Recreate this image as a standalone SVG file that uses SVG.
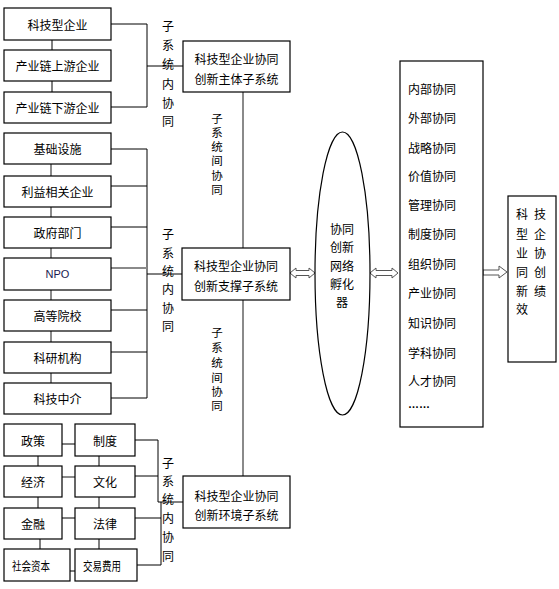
<svg xmlns="http://www.w3.org/2000/svg" width="559" height="589" viewBox="0 0 559 589">
<style>
.box{fill:#fff;stroke:#000;stroke-width:1.2}
.t{font-family:"Noto Sans CJK SC","Liberation Sans",sans-serif;font-size:12px;fill:#000;text-anchor:middle;dominant-baseline:central}
.tv{font-family:"Noto Sans CJK SC","Liberation Sans",sans-serif;font-size:11.5px;fill:#000;text-anchor:middle;dominant-baseline:central}
.tl{font-family:"Noto Sans CJK SC","Liberation Sans",sans-serif;font-size:12px;fill:#000;dominant-baseline:central}
.ln{stroke:#000;stroke-width:1;fill:none}
.gl{stroke:#8a8a8a;stroke-width:2;fill:none}
.arr{fill:#fff;stroke:#555;stroke-width:1}
</style>
<rect width="559" height="589" fill="#fff"/>
<g id="connectors">
<line class="gl" x1="243" y1="92" x2="243" y2="476"/>
<path class="ln" d="M52 40V50M52 81V92"/>
<path class="ln" d="M111 24H147V107H111M147 66H183"/>
<path class="gl" d="M51 164V176M51 207V217M51 248V258M51 290V300M51 331V342M51 373V383"/>
<path class="ln" d="M111 149H147V398H111M111 186H147M111 227H147M111 310H147M111 352H147M147 274H183"/>
<line class="gl" x1="111" y1="268" x2="147" y2="268"/>
<path class="ln" d="M62 444H75M62 518H75M62 571H75"/>
<line class="gl" x1="62" y1="477" x2="75" y2="477"/>
<path class="ln" d="M38 456V466M38 497V508M40 539V549M99 456V466M99 497V508M99 539V549"/>
<path class="ln" d="M135 440H158V502H183M135 476H158M135 518H161M137 565H161V502"/>
<path class="arr" d="M290 273L296 268V270.5H309V268L315 273L309 278V275.5H296V278Z"/>
<path class="arr" d="M370 273L376 268V270.5H392V268L398 273L392 278V275.5H376V278Z"/>
<path class="arr" d="M483 270H499V266L507 272L499 278V275H483Z"/>
</g>
<g id="n1"><rect class="box" x="4" y="8" width="107" height="32"/><text class="t" x="57.5" y="24">科技型企业</text></g>
<g id="n2"><rect class="box" x="4" y="50" width="107" height="31"/><text class="t" x="57.5" y="65.5">产业链上游企业</text></g>
<g id="n3"><rect class="box" x="4" y="92" width="107" height="31"/><text class="t" x="57.5" y="107.5">产业链下游企业</text></g>
<g id="m1"><rect class="box" x="183" y="41" width="107" height="51"/><text class="t" x="236.5" y="58">科技型企业协同</text><text class="t" x="236.5" y="78">创新主体子系统</text></g>
<g id="s1"><rect class="box" x="4" y="133" width="107" height="31"/><text class="t" x="57.5" y="148.5">基础设施</text></g>
<g id="s2"><rect class="box" x="4" y="176" width="107" height="31"/><text class="t" x="57.5" y="191.5">利益相关企业</text></g>
<g id="s3"><rect class="box" x="4" y="217" width="107" height="31"/><text class="t" x="57.5" y="232.5">政府部门</text></g>
<g id="s4"><rect class="box" x="4" y="258" width="107" height="32"/><text class="t" x="57.5" y="274" style="font-family:'Liberation Sans',sans-serif;font-size:11px;fill:#1a1a50">NPO</text></g>
<g id="s5"><rect class="box" x="4" y="300" width="107" height="31"/><text class="t" x="57.5" y="315.5">高等院校</text></g>
<g id="s6"><rect class="box" x="4" y="342" width="107" height="31"/><text class="t" x="57.5" y="357.5">科研机构</text></g>
<g id="s7"><rect class="box" x="4" y="383" width="107" height="31"/><text class="t" x="57.5" y="398.5">科技中介</text></g>
<g id="m2"><rect class="box" x="182" y="248" width="108" height="52"/><text class="t" x="236" y="265">科技型企业协同</text><text class="t" x="236" y="285">创新支撑子系统</text></g>
<g id="e1"><rect class="box" x="4" y="424" width="58" height="32"/><text class="t" x="33" y="440">政策</text></g>
<g id="e2"><rect class="box" x="75" y="424" width="60" height="32"/><text class="t" x="105" y="440">制度</text></g>
<g id="e3"><rect class="box" x="4" y="466" width="58" height="31"/><text class="t" x="33" y="481.5">经济</text></g>
<g id="e4"><rect class="box" x="75" y="466" width="60" height="31"/><text class="t" x="105" y="481.5">文化</text></g>
<g id="e5"><rect class="box" x="4" y="508" width="58" height="31"/><text class="t" x="33" y="523.5">金融</text></g>
<g id="e6"><rect class="box" x="75" y="508" width="60" height="31"/><text class="t" x="105" y="523.5">法律</text></g>
<g id="e7"><rect class="box" x="4" y="549" width="66" height="32"/><text class="t" x="31" y="565" textLength="38" lengthAdjust="spacingAndGlyphs">社会资本</text></g>
<g id="e8"><rect class="box" x="75" y="549" width="62" height="32"/><text class="t" x="102" y="565" textLength="38" lengthAdjust="spacingAndGlyphs">交易费用</text></g>
<g id="m3"><rect class="box" x="183" y="476" width="107" height="52"/><text class="t" x="236.5" y="495">科技型企业协同</text><text class="t" x="236.5" y="514">创新环境子系统</text></g>
<g id="labels">
<text class="t" x="168"><tspan x="168" y="25">子</tspan><tspan x="168" y="44">系</tspan><tspan x="168" y="63">统</tspan><tspan x="168" y="83">内</tspan><tspan x="168" y="102">协</tspan><tspan x="168" y="120">同</tspan></text>
<text class="t" x="168"><tspan x="168" y="233">子</tspan><tspan x="168" y="252">系</tspan><tspan x="168" y="270">统</tspan><tspan x="168" y="288">内</tspan><tspan x="168" y="307">协</tspan><tspan x="168" y="325">同</tspan></text>
<text class="t" x="168"><tspan x="168" y="462">子</tspan><tspan x="168" y="480">系</tspan><tspan x="168" y="498">统</tspan><tspan x="168" y="517">内</tspan><tspan x="168" y="536">协</tspan><tspan x="168" y="555">同</tspan></text>
<text class="tv" x="217"><tspan x="217" y="118">子</tspan><tspan x="217" y="132">系</tspan><tspan x="217" y="146">统</tspan><tspan x="217" y="160">间</tspan><tspan x="217" y="175">协</tspan><tspan x="217" y="189">同</tspan></text>
<text class="tv" x="217"><tspan x="217" y="332">子</tspan><tspan x="217" y="347">系</tspan><tspan x="217" y="362">统</tspan><tspan x="217" y="377">间</tspan><tspan x="217" y="391">协</tspan><tspan x="217" y="405">同</tspan></text>
</g>
<g id="incubator"><ellipse class="box" cx="342.5" cy="273.5" rx="27.5" ry="141.5"/>
<text class="t" x="342"><tspan x="342" y="228">协同</tspan><tspan x="342" y="246">创新</tspan><tspan x="342" y="265">网络</tspan><tspan x="342" y="283">孵化</tspan><tspan x="342" y="301">器</tspan></text></g>
<g id="list"><rect class="box" x="400" y="61" width="83" height="366"/>
<text class="tl"><tspan x="408" y="88">内部协同</tspan><tspan x="408" y="117">外部协同</tspan><tspan x="408" y="147">战略协同</tspan><tspan x="408" y="175">价值协同</tspan><tspan x="408" y="204">管理协同</tspan><tspan x="408" y="233">制度协同</tspan><tspan x="408" y="263">组织协同</tspan><tspan x="408" y="292">产业协同</tspan><tspan x="408" y="322">知识协同</tspan><tspan x="408" y="352">学科协同</tspan><tspan x="408" y="380">人才协同</tspan></text>
<text class="tl" x="408" y="404" style="font-family:'Liberation Sans',sans-serif;font-size:11px;font-weight:bold">……</text></g>
<g id="result"><rect class="box" x="508" y="196" width="48" height="166"/>
<text class="t"><tspan x="522" y="213">科</tspan><tspan x="540" y="213">技</tspan><tspan x="522" y="233">型</tspan><tspan x="540" y="233">企</tspan><tspan x="522" y="252">业</tspan><tspan x="540" y="252">协</tspan><tspan x="522" y="271">同</tspan><tspan x="540" y="271">创</tspan><tspan x="522" y="290">新</tspan><tspan x="540" y="290">绩</tspan><tspan x="522" y="308">效</tspan></text></g>
</svg>
